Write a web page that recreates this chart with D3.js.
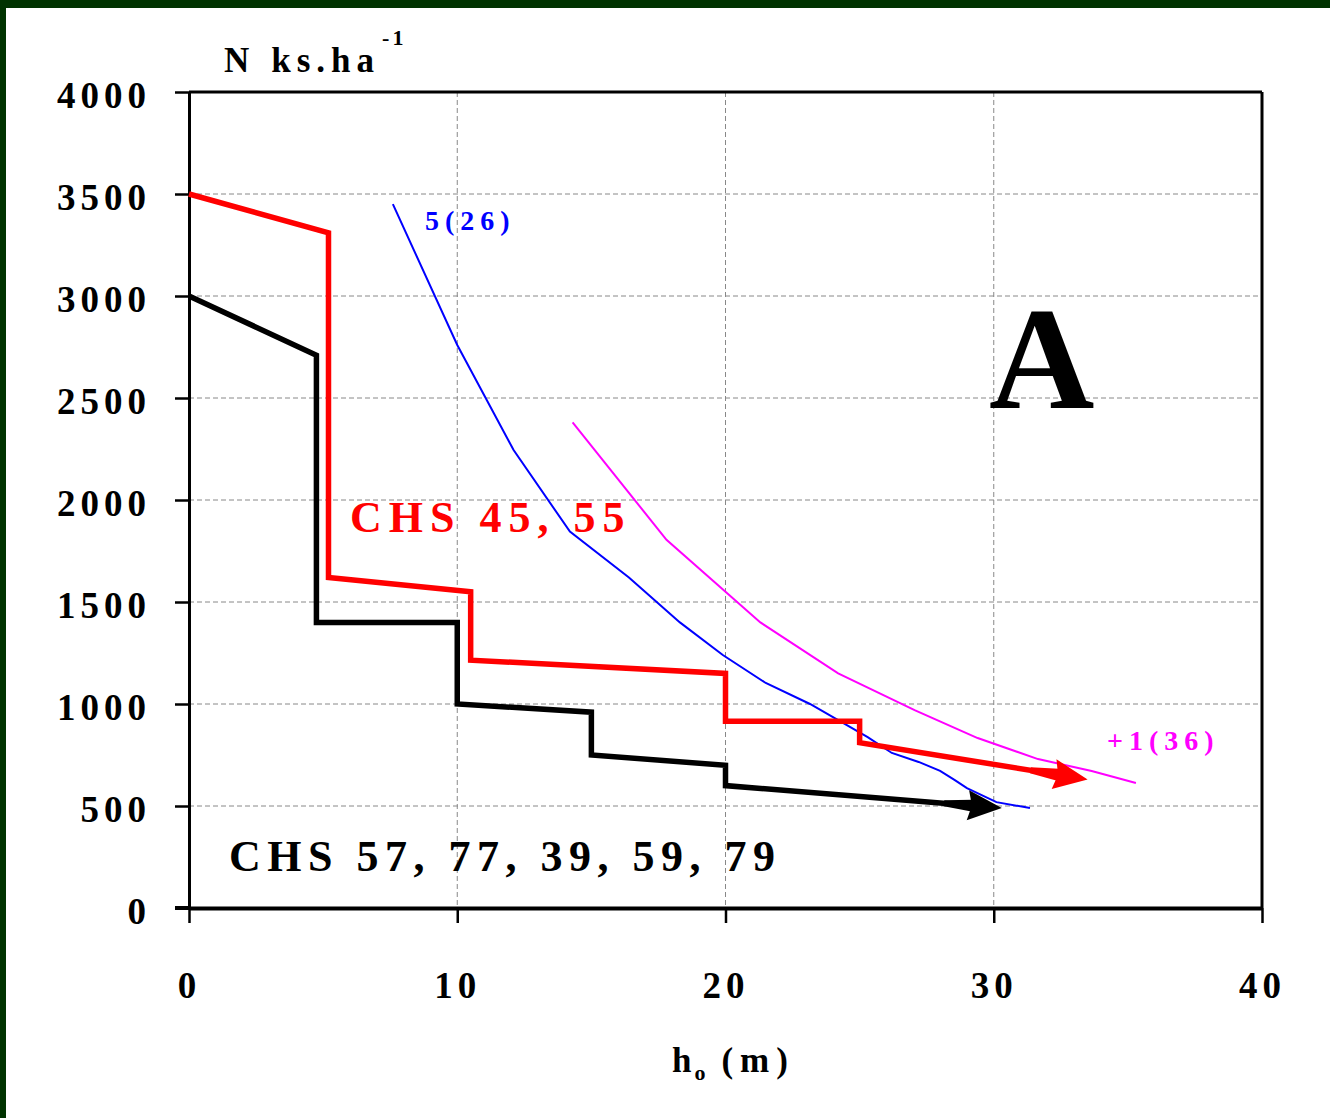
<!DOCTYPE html>
<html>
<head>
<meta charset="utf-8">
<script src="https://cdn.jsdelivr.net/npm/d3@7"></script>
<style>
  html, body { margin: 0; padding: 0; background: #ffffff; }
  svg { display: block; }
  text { font-family: "Liberation Serif", "DejaVu Serif", serif; font-weight: bold; }
</style>
</head>
<body>
<svg id="chart" width="1330" height="1118"></svg>
<script>
// ---------- data ----------
const xTicks = [0, 10, 20, 30, 40];
const yTicks = [0, 500, 1000, 1500, 2000, 2500, 3000, 3500, 4000];

// CHS 57, 77, 39, 59, 79 (black step line)
const blackX = [0, 4.75, 4.75, 10, 10, 15, 15, 20, 20, 30.3];
const blackY = [3000, 2710, 1400, 1400, 1000, 960, 750, 700, 600, 490];

// CHS 45, 55 (red step line)
const redX = [0, 5.2, 5.2, 10.5, 10.5, 20, 20, 25, 25, 33.5];
const redY = [3500, 3310, 1620, 1550, 1215, 1150, 915, 915, 810, 630];

// 5(26) (blue)
const blueX = [7.6, 10, 12.1, 14.2, 16.4, 18.3, 19.9, 21.5, 23.15, 25.3, 26.2, 27.2, 28.0, 28.55, 29.0, 30.1, 31.35];
const blueY = [3450, 2760, 2245, 1845, 1620, 1400, 1240, 1103, 1000, 838, 760, 716, 672, 627, 588, 519, 490];

// +1(36) (magenta)
const magX = [14.3, 17.8, 21.3, 24.2, 27.05, 29.4, 31.65, 33.65, 35.3];
const magY = [2380, 1805, 1400, 1150, 970, 833, 730, 672, 613];

// ---------- layout ----------
(function () {
const svg = d3.select("#chart");
const W = 1330, H = 1118;
const pL = 189, pR = 1262, pT = 92, pB = 908;

const x = d3.scaleLinear().domain([0, 40]).range([pL, pR]);
const y = d3.scaleLinear().domain([0, 4000]).range([pB, pT]);

// frame (dark green top and left borders)
svg.append("rect").attr("x", 0).attr("y", 0).attr("width", W).attr("height", H).attr("fill", "#ffffff");
svg.append("rect").attr("x", 0).attr("y", 0).attr("width", W).attr("height", 8).attr("fill", "#003300");
svg.append("rect").attr("x", 0).attr("y", 0).attr("width", 6).attr("height", H).attr("fill", "#003300");

// gridlines
const grid = svg.append("g").attr("stroke", "#888888").attr("stroke-width", 1).attr("stroke-dasharray", "5,3");
grid.selectAll("line.h").data(yTicks.filter(d => d > 0 && d < 4000)).join("line").attr("class", "h")
  .attr("x1", pL).attr("x2", pR).attr("y1", d => y(d)).attr("y2", d => y(d));
grid.selectAll("line.v").data(xTicks.filter(d => d > 0 && d < 40)).join("line").attr("class", "v")
  .attr("y1", pT).attr("y2", pB).attr("x1", d => x(d)).attr("x2", d => x(d));

// plot border (top and right)
svg.append("line").attr("x1", pL).attr("x2", pR).attr("y1", pT).attr("y2", pT)
  .attr("stroke", "#000").attr("stroke-width", 3);
svg.append("line").attr("x1", pR).attr("x2", pR).attr("y1", pT).attr("y2", pB)
  .attr("stroke", "#000").attr("stroke-width", 3);

// axes
const yAxis = svg.append("g").attr("transform", `translate(${pL},0)`)
  .call(d3.axisLeft(y).tickValues(yTicks).tickSize(14).tickSizeOuter(0).tickFormat(d3.format("d")));
yAxis.select(".domain").attr("stroke-width", 3);
yAxis.selectAll(".tick line").attr("stroke-width", 2.5);
yAxis.selectAll(".tick text")
  .attr("x", -38).attr("dy", "0.42em")
  .style("font-family", '"Liberation Serif", serif').style("font-weight", "bold")
  .style("font-size", "37px").style("letter-spacing", "5px").attr("fill", "#000");

const xAxis = svg.append("g").attr("transform", `translate(0,${pB})`)
  .call(d3.axisBottom(x).tickValues(xTicks).tickSize(15).tickSizeOuter(0).tickFormat(d3.format("d")));
xAxis.select(".domain").attr("stroke-width", 4);
xAxis.selectAll(".tick line").attr("stroke-width", 2.5);
xAxis.selectAll(".tick text")
  .attr("y", 90).attr("dy", 0).attr("dx", "0px")
  .style("font-family", '"Liberation Serif", serif').style("font-weight", "bold")
  .style("font-size", "37px").style("letter-spacing", "5px").attr("fill", "#000");
svg.append("line").attr("x1", pL - 14).attr("x2", pL).attr("y1", pB).attr("y2", pB)
  .attr("stroke", "#000").attr("stroke-width", 4);

// ---------- series ----------
const line = d3.line().x(d => x(d[0])).y(d => y(d[1]));
const zip = (a, b) => a.map((v, i) => [v, b[i]]);

function arrowSeries(xs, ys, color, width, headLen, headHalf) {
  const pts = zip(xs, ys);
  const n = pts.length;
  const tip = [x(pts[n - 1][0]), y(pts[n - 1][1])];
  const prev = [x(pts[n - 2][0]), y(pts[n - 2][1])];
  const dx = tip[0] - prev[0], dy = tip[1] - prev[1];
  const len = Math.hypot(dx, dy);
  const ux = dx / len, uy = dy / len;
  const base = [tip[0] - ux * headLen, tip[1] - uy * headLen];
  const pix = pts.slice(0, n - 1).map(p => [x(p[0]), y(p[1])]);
  pix.push([base[0] + ux * 4, base[1] + uy * 4]);
  svg.append("path").attr("d", d3.line()(pix))
    .attr("fill", "none").attr("stroke", color).attr("stroke-width", width)
    .attr("stroke-linejoin", "miter");
  const nx = -uy, ny = ux;
  // thickened shaft just before the head
  const s0 = [base[0] - ux * 26, base[1] - uy * 26];
  const shaft = [
    [s0[0] + nx * 3, s0[1] + ny * 3],
    [base[0] + ux * 2 + nx * 6, base[1] + uy * 2 + ny * 6],
    [base[0] + ux * 2 - nx * 6, base[1] + uy * 2 - ny * 6],
    [s0[0] - nx * 3, s0[1] - ny * 3]
  ];
  svg.append("path").attr("d", "M" + shaft.map(p => p.join(",")).join("L") + "Z").attr("fill", color);
  const head = [
    tip,
    [base[0] + nx * headHalf - ux * 2, base[1] + ny * headHalf - uy * 2],
    [base[0] + ux * 2, base[1] + uy * 2],
    [base[0] - nx * headHalf - ux * 2, base[1] - ny * headHalf - uy * 2]
  ];
  svg.append("path").attr("d", "M" + head.map(p => p.join(",")).join("L") + "Z").attr("fill", color);
}

svg.append("path").attr("d", line(zip(magX, magY)))
  .attr("fill", "none").attr("stroke", "#ff00ff").attr("stroke-width", 2);
svg.append("path").attr("d", line(zip(blueX, blueY)))
  .attr("fill", "none").attr("stroke", "#0000ff").attr("stroke-width", 2);

arrowSeries(blackX, blackY, "#000000", 5.5, 32, 15);
arrowSeries(redX, redY, "#ff0000", 5.5, 32, 15);

// ---------- text ----------
const yt = svg.append("text").attr("x", 224).attr("y", 72)
  .style("font-size", "35px").attr("fill", "#000");
yt.append("tspan").text("N");
yt.append("tspan").attr("dx", 22).style("letter-spacing", "6px").text("ks.ha");
yt.append("tspan").attr("dx", 2).attr("dy", -27).style("font-size", "22px").style("letter-spacing", "3px").text("-1");

const xt = svg.append("text").attr("x", 672).attr("y", 1072)
  .style("font-size", "35px").attr("fill", "#000");
xt.append("tspan").text("h");
xt.append("tspan").attr("dx", 3).attr("dy", 8).style("font-size", "22px").text("o");
xt.append("tspan").attr("dy", -8).attr("dx", 16).style("letter-spacing", "7px").text("(m)");

svg.append("text").attr("x", 425).attr("y", 230).attr("fill", "#0000ff")
  .style("font-size", "28px").style("letter-spacing", "6px").text("5(26)");
svg.append("text").attr("x", 1107).attr("y", 750).attr("fill", "#ff00ff")
  .style("font-size", "28px").style("letter-spacing", "6px").text("+1(36)");
svg.append("text").attr("x", 350).attr("y", 532).attr("fill", "#ff0000")
  .style("font-size", "44px").style("letter-spacing", "7px").text("CHS 45, 55");
svg.append("text").attr("x", 229).attr("y", 871).attr("fill", "#000")
  .style("font-size", "44px").style("letter-spacing", "6.5px").text("CHS 57, 77, 39, 59, 79");

svg.append("text").attr("x", 989).attr("y", 408).attr("fill", "#000")
  .style("font-size", "146px").text("A");
})();
</script>
</body>
</html>
